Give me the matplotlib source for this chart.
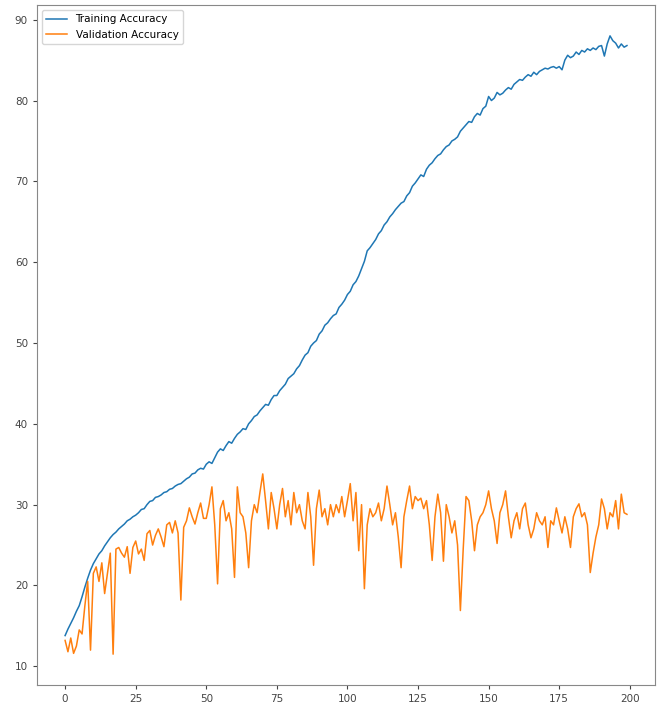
import numpy as np
import matplotlib
matplotlib.use('Agg')
import matplotlib.pyplot as plt

# per-epoch accuracy (%) over 200 epochs
train_acc = [
    13.8, 14.6, 15.3, 16.0, 16.8, 17.5, 18.6, 19.8, 20.9, 21.9,
    22.7, 23.3, 23.9, 24.3, 24.9, 25.4, 25.9, 26.3, 26.6, 27.0,
    27.3, 27.6, 28.0, 28.2, 28.5, 28.7, 29.0, 29.4, 29.5, 30.0,
    30.4, 30.5, 30.9, 31.0, 31.2, 31.5, 31.6, 31.9, 32.0, 32.3,
    32.5, 32.6, 32.9, 33.2, 33.4, 33.8, 33.9, 34.3, 34.5, 34.4,
    35.0, 35.3, 35.1, 35.8, 36.5, 36.9, 36.7, 37.3, 37.8, 37.6,
    38.2, 38.7, 39.0, 39.4, 39.3, 40.0, 40.4, 40.9, 41.1, 41.6,
    42.0, 42.4, 42.3, 43.0, 43.5, 43.5, 44.1, 44.5, 44.9, 45.6,
    45.9, 46.2, 46.8, 47.2, 47.9, 48.5, 48.8, 49.6, 50.0, 50.3,
    51.1, 51.5, 52.2, 52.5, 53.0, 53.4, 53.6, 54.4, 54.8, 55.3,
    56.0, 56.4, 57.2, 57.6, 58.3, 59.2, 60.1, 61.4, 61.8, 62.3,
    62.8, 63.5, 63.9, 64.6, 65.0, 65.6, 66.0, 66.5, 66.9, 67.3,
    67.5, 68.2, 68.6, 69.4, 69.8, 70.3, 70.8, 70.6, 71.5, 72.0,
    72.3, 72.8, 73.2, 73.4, 73.9, 74.3, 74.5, 75.0, 75.2, 75.5,
    76.2, 76.6, 77.0, 77.4, 77.3, 78.0, 78.4, 78.2, 79.0, 79.3,
    80.5, 80.0, 80.3, 81.0, 80.7, 80.9, 81.3, 81.6, 81.4, 82.0,
    82.3, 82.6, 82.5, 82.9, 83.2, 83.0, 83.5, 83.2, 83.6, 83.8,
    84.0, 83.9, 84.1, 84.2, 84.0, 84.2, 83.8, 85.0, 85.6, 85.3,
    85.5, 86.0, 85.7, 86.2, 86.0, 86.4, 86.2, 86.5, 86.3, 86.7,
    86.8, 85.5, 87.0, 88.0, 87.4, 87.1, 86.5, 87.0, 86.6, 86.8,
]

val_acc = [
    13.2, 11.8, 13.5, 11.6, 12.5, 14.5, 14.0, 17.5, 20.5, 12.0,
    21.5, 22.3, 20.5, 22.8, 19.0, 21.5, 24.0, 11.5, 24.5, 24.7,
    24.0, 23.5, 24.8, 21.5, 24.7, 25.5, 23.9, 24.5, 23.1, 26.4,
    26.8, 25.0, 26.2, 27.0, 26.0, 24.8, 27.5, 27.8, 26.5, 28.0,
    26.5, 18.2, 27.2, 28.0, 29.6, 28.5, 27.6, 29.0, 30.2, 28.3,
    28.3, 30.0, 32.2, 27.5, 20.2, 29.5, 30.5, 28.0, 29.0, 27.0,
    21.0, 32.2, 29.0, 28.5, 26.5, 22.2, 28.0, 30.0, 29.0, 31.5,
    33.8, 30.5, 27.0, 31.5, 29.5, 27.0, 30.0, 32.0, 28.5, 30.5,
    27.5, 31.5, 29.0, 30.0, 28.0, 27.0, 31.5, 28.5, 22.5, 29.5,
    31.8, 28.5, 29.5, 27.5, 30.0, 28.5, 30.0, 29.0, 31.0, 28.5,
    30.5, 32.6, 28.0, 31.5, 24.3, 30.0, 19.6, 27.5, 29.5, 28.5,
    29.0, 30.2, 28.0, 29.5, 32.3, 30.0, 27.5, 29.0, 26.0, 22.2,
    28.5, 30.5, 32.3, 29.5, 31.0, 30.5, 30.8, 29.5, 30.5, 27.5,
    23.1, 28.5, 31.3, 29.0, 23.0, 30.0, 28.5, 26.5, 28.0, 25.0,
    16.9, 24.5, 31.0, 30.5, 28.0, 24.3, 27.5, 28.5, 29.0, 30.0,
    31.7, 29.5, 28.0, 25.2, 29.0, 30.0, 31.7, 28.5, 25.9, 28.0,
    29.0, 27.0, 29.5, 30.2, 27.5, 25.9, 27.0, 29.0, 28.0, 27.5,
    28.5, 24.7, 28.0, 27.5, 29.6, 28.0, 26.5, 28.5, 27.0, 24.7,
    28.5, 29.5, 30.1, 28.5, 29.0, 27.5, 21.6, 24.0, 26.0, 27.5,
    30.7, 29.5, 27.0, 29.0, 28.5, 30.5, 27.0, 31.3, 29.0, 28.8,
]

epochs = np.arange(len(train_acc))

fig = plt.figure(figsize=(6.61, 7.07), dpi=100)
ax = fig.add_axes([0.056, 0.031, 0.935, 0.962])

ax.plot(epochs, train_acc, color='#1f77b4', linewidth=1.1, label='Training Accuracy')
ax.plot(epochs, val_acc, color='#ff7f0e', linewidth=1.1, label='Validation Accuracy')

ax.set_xticks([0, 25, 50, 75, 100, 125, 150, 175, 200])
ax.tick_params(labelsize=7.5, colors='#444444', length=3)
for s in ax.spines.values():
    s.set_color('#888888')

ax.legend(loc='upper left', fontsize=7.5)

fig.savefig('out.png', dpi=100)
